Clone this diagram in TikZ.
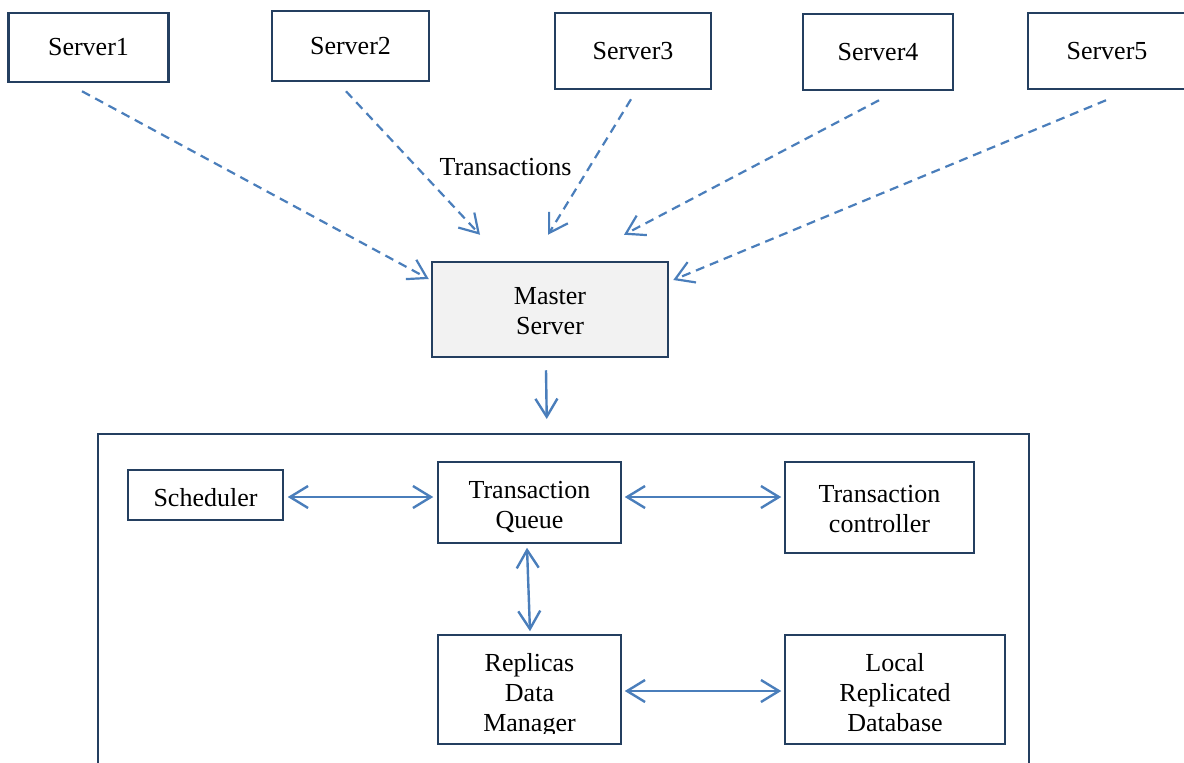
\documentclass[tikz,border=0pt]{standalone}
\usepackage{fontspec}
\setmainfont{Liberation Serif}
\usetikzlibrary{arrows.meta,calc}
\definecolor{navy}{HTML}{243F60}
\definecolor{flow}{HTML}{4A7EBB}
\definecolor{mastfill}{HTML}{F2F2F2}
\begin{document}
\begin{tikzpicture}[x=1pt,y=-1pt,
  every node/.style={font=\fontsize{26}{30}\selectfont, align=center, inner sep=0pt},
  topbox/.style={draw=navy, line width=2.5pt},
  innerbox/.style={draw=navy, line width=1.5pt},
  barb/.style={Straight Barb[length=18pt,width=22pt]},
  feed/.style={draw=flow, line width=2.2pt, dash pattern=on 9pt off 6pt,
    -{Straight Barb[length=18pt,width=22pt,line width=2.2pt]}},
  link/.style={draw=flow, line width=2.4pt,
    {Straight Barb[length=18pt,width=22pt]}-{Straight Barb[length=18pt,width=22pt]}},
  down/.style={draw=flow, line width=2.4pt, -{Straight Barb[length=18pt,width=22pt]}}
]
\useasboundingbox (0,0) rectangle (1184,763);

% sending servers
\node[topbox, minimum width=160pt, minimum height=69pt] (s1) at (88.5,47.5) {Server1};
\node[topbox, minimum width=157pt, minimum height=70pt] (s2) at (350.5,46) {Server2};
\node[topbox, minimum width=156pt, minimum height=76pt] (s3) at (633,51) {Server3};
\node[topbox, minimum width=150pt, minimum height=76pt] (s4) at (878,52) {Server4};
\node[topbox, minimum width=158pt, minimum height=76pt] (s5) at (1107,51) {Server5};

% master server
\node[topbox, fill=mastfill, minimum width=236pt, minimum height=95pt] (ms) at (550,309.5) {};
\node (mstext) at ($(ms.center)+(0,2)$) {Master\\Server};

\node[anchor=base] (tx) at (505.5,175) {Transactions};

% transactions flowing to the master
\draw[feed] ($(s1.south)+(-6.5,8)$) -- ($(ms.west)+(-2,-30.5)$);
\draw[feed] ($(s2.south)+(-4.5,9)$) -- ($(ms.north)+(-70,-26)$);
\draw[feed] ($(s3.south)+(-2,9)$) -- ($(ms.north)+(-2,-26)$);
\draw[feed] ($(s4.south)+(1,9)$) -- ($(ms.north)+(74,-26)$);
\draw[feed] ($(s5.south)+(-1,10)$) -- ($(ms.east)+(4,-29.5)$);

% processing block
\node[innerbox, minimum width=931pt, minimum height=400pt, anchor=north west] (blk) at (97,433) {};
\draw[down] ($(ms.south)+(-4,12)$) -- ($(blk.north)+(-16.5,-14)$);

\node[innerbox, minimum width=155pt, minimum height=50pt] (sch) at (205.5,495) {};
\node (schtext) at ($(sch.center)+(0,3)$) {Scheduler};
\node[innerbox, minimum width=183pt, minimum height=81pt] (tq) at (529.5,502.5) {};
\node (tqtext) at ($(tq.center)+(0,4)$) {Transaction\\Queue};
\node[innerbox, minimum width=189pt, minimum height=91pt] (tc) at (879.5,507.5) {};
\node (tctext) at ($(tc.center)+(0,2)$) {Transaction\\controller};
\node[innerbox, minimum width=183pt, minimum height=109pt] (rdm) at (529.5,689.5) {};
\begin{scope}
  \clip (rdm.north west) rectangle ($(rdm.east)+(0,43.5)$);
  \node (rdmtext) at ($(rdm.center)+(0,6)$) {Replicas\\Data\\Manager};
\end{scope}
\node[innerbox, minimum width=220pt, minimum height=109pt] (lrd) at (895,689.5) {};
\node (lrdtext) at ($(lrd.center)+(0,3)$) {Local\\Replicated\\Database};

% internal links
\draw[link] ($(sch.east)+(4,2)$) -- ($(tq.west)+(-4,-5.5)$);
\draw[link] ($(tq.east)+(3,-5.5)$) -- ($(tc.west)+(-3,-10.5)$);
\draw[link] ($(tq.south)+(-2.5,4)$) -- ($(rdm.north)+(0.5,-3)$);
\draw[link] ($(rdm.east)+(3,1.5)$) -- ($(lrd.west)+(-3,1.5)$);
\end{tikzpicture}
\end{document}
